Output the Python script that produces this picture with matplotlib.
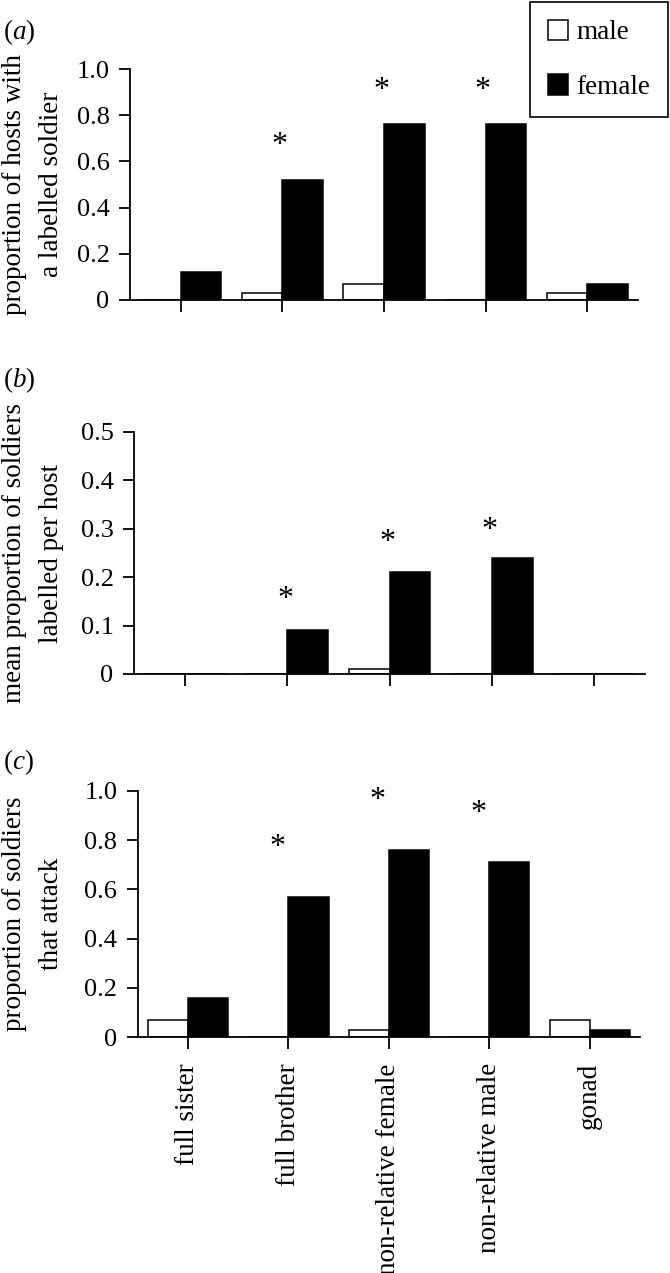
import matplotlib
matplotlib.use('Agg')
import matplotlib.pyplot as plt
from matplotlib.patches import Patch

plt.rcParams['font.family'] = 'Liberation Serif'
plt.rcParams['mathtext.fontset'] = 'custom'
plt.rcParams['mathtext.rm'] = 'Liberation Serif'
plt.rcParams['mathtext.it'] = 'Liberation Serif:italic'

categories = ['full sister', 'full brother', 'non-relative female',
              'non-relative male', 'gonad']

# (a) proportion of hosts with a labelled soldier
hosts_male = [0, 0.03, 0.07, 0, 0.03]
hosts_female = [0.12, 0.52, 0.76, 0.76, 0.07]
hosts_star_cat = [1, 2, 3]
hosts_star_y = [0.67, 0.905, 0.905]

# (b) mean proportion of soldiers labelled per host
labelled_male = [0, 0, 0.01, 0, 0]
labelled_female = [0, 0.09, 0.21, 0.24, 0]
labelled_star_cat = [1, 2, 3]
labelled_star_y = [0.153, 0.272, 0.297]

# (c) proportion of soldiers that attack
attack_male = [0.07, 0, 0.03, 0, 0.07]
attack_female = [0.16, 0.57, 0.76, 0.71, 0.03]
attack_star_cat = [1, 2, 3]
attack_star_y = [0.77, 0.962, 0.908]

W, H = 670, 1273
FS = 19.5
fig = plt.figure(figsize=(W / 100, H / 100), dpi=100)


def px_axes(left, right, top, bottom):
    return fig.add_axes([left / W, (H - bottom) / H, (right - left) / W, (bottom - top) / H])


def panel(ax, male, female, star_cat, star_y, star_dx, ymax, yticks, ylabels,
          ylabel, letter, letter_y):
    x = list(range(len(categories)))
    ax.bar([i - 0.2 for i in x], male, width=0.4, color='white',
           edgecolor='black', linewidth=1.1)
    ax.bar([i + 0.2 for i in x], female, width=0.4, color='black',
           edgecolor='black', linewidth=1.1)
    for c, y in zip(star_cat, star_y):
        ax.text(c + star_dx, y, '*', ha='center', va='center', fontsize=23)
    ax.set_xlim(-0.5, 4.5)
    ax.set_ylim(0, ymax)
    ax.set_yticks(yticks)
    ax.set_yticklabels(ylabels, fontsize=19)
    ax.set_xticks(x)
    ax.set_xticklabels([])
    for s in ['top', 'right']:
        ax.spines[s].set_visible(False)
    for s in ['left', 'bottom']:
        ax.spines[s].set_linewidth(1.3)
    ax.tick_params(axis='y', direction='out', length=7.7, width=1.3, pad=7)
    ax.tick_params(axis='x', direction='out', length=8.6, width=1.3, pad=10)
    pos = ax.get_position()
    fig.text(33 / W, pos.y0 + pos.height / 2, ylabel, rotation=90, ha='center',
             va='center', multialignment='center', fontsize=FS, linespacing=1.6)
    fig.text(3 / W, 1 - letter_y / H, '($\\mathit{%s}$)' % letter, ha='left',
             va='center', fontsize=FS)


ax_a = px_axes(130, 638, 69, 300)
panel(ax_a, hosts_male, hosts_female, hosts_star_cat, hosts_star_y, -0.03,
      1.0, [0, 0.2, 0.4, 0.6, 0.8, 1.0], ['0', '0.2', '0.4', '0.6', '0.8', '1.0'],
      'proportion of hosts with\na labelled soldier', 'a', 32)

ax_b = px_axes(134, 645, 432, 674)
panel(ax_b, labelled_male, labelled_female, labelled_star_cat, labelled_star_y, -0.02,
      0.5, [0, 0.1, 0.2, 0.3, 0.4, 0.5], ['0', '0.1', '0.2', '0.3', '0.4', '0.5'],
      'mean proportion of soldiers\nlabelled per host', 'b', 380)

ax_c = px_axes(137.6, 640, 790.7, 1037.3)
panel(ax_c, attack_male, attack_female, attack_star_cat, attack_star_y, -0.11,
      1.0, [0, 0.2, 0.4, 0.6, 0.8, 1.0], ['0', '0.2', '0.4', '0.6', '0.8', '1.0'],
      'proportion of soldiers\nthat attack', 'c', 762)
ax_c.set_xticklabels(categories, rotation=90, fontsize=FS, va='top', ha='center')

handles = [Patch(facecolor='white', edgecolor='black', linewidth=1.1),
           Patch(facecolor='black', edgecolor='black', linewidth=1.1)]
leg = fig.legend(handles, ['male', 'female'], loc='upper right',
                 bbox_to_anchor=(668 / W, 1 - 2 / H), fontsize=19.5,
                 frameon=True, fancybox=False, framealpha=1, edgecolor='black',
                 handlelength=0.75, handleheight=0.8, handletextpad=0.3,
                 labelspacing=1.05, borderpad=0.65, borderaxespad=0)
leg.get_frame().set_linewidth(1.2)

fig.savefig('out.png', dpi=100)
